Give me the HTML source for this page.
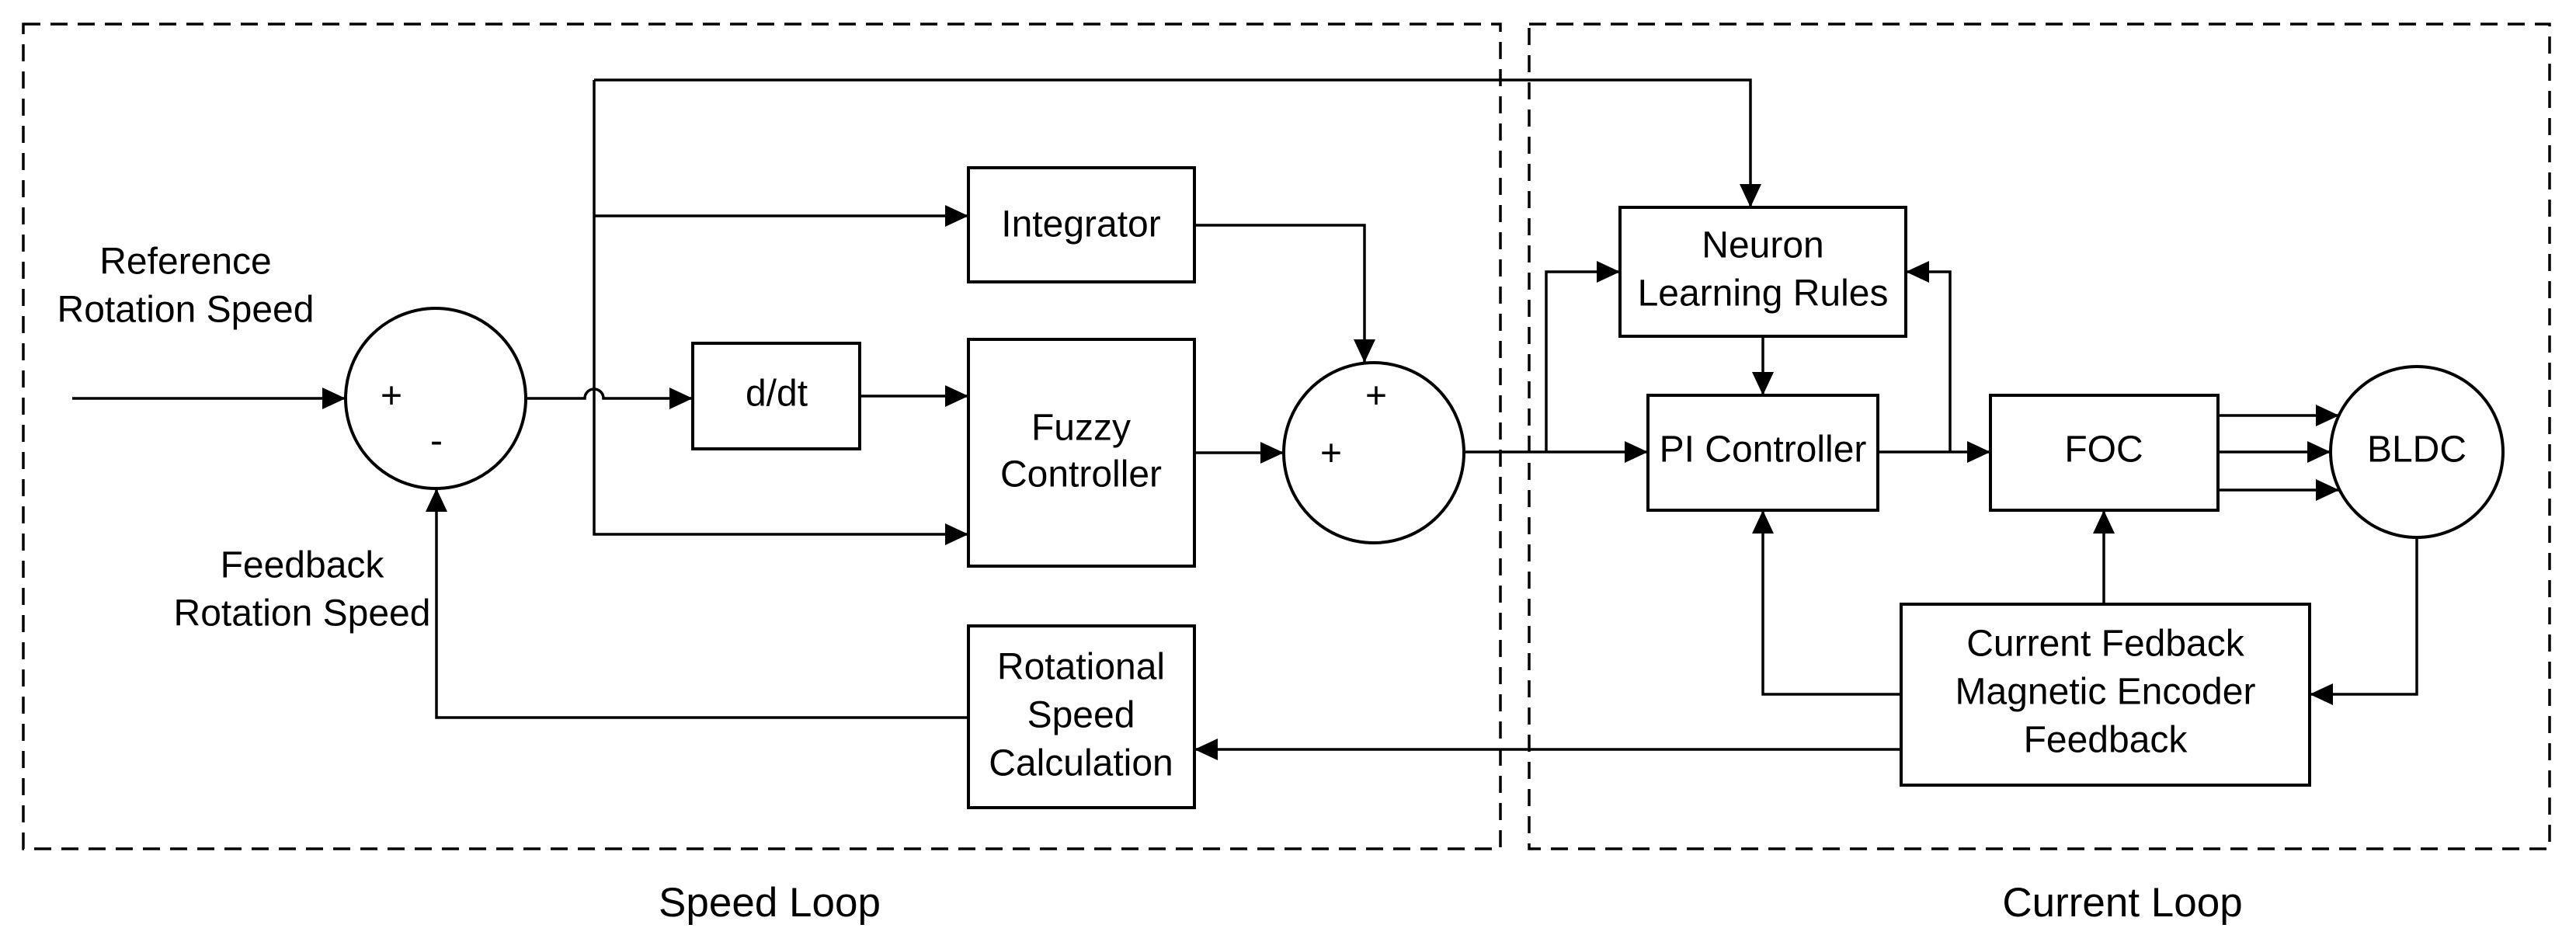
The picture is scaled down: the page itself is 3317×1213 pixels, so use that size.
<!DOCTYPE html>
<html><head><meta charset="utf-8"><style>html,body{margin:0;padding:0;background:#fff}svg{display:block}text{font-family:"Liberation Sans",sans-serif;font-size:48px;fill:#000;text-anchor:middle;dominant-baseline:middle}</style></head>
<body>
<svg width="3317" height="1213" viewBox="0 0 3317 1213" xmlns="http://www.w3.org/2000/svg">
<defs>
<marker id="A" markerWidth="30" markerHeight="28" refX="30" refY="14" orient="auto" markerUnits="userSpaceOnUse"><path d="M0,0 L30,14 L0,28 z" fill="#000"/></marker></defs>
<g fill="none" stroke="#000" stroke-width="3.5" stroke-dasharray="22,13">
<rect x="30" y="31" width="1902" height="1062"/>
<rect x="1969" y="31" width="1314" height="1062"/>
</g>
<g fill="none" stroke="#000" stroke-width="4">
<rect x="1247" y="216" width="291" height="147"/>
<rect x="892" y="442" width="215" height="136"/>
<rect x="1247" y="437" width="291" height="292"/>
<rect x="1247" y="806" width="291" height="234"/>
<circle cx="561" cy="513" r="116"/>
<circle cx="1769" cy="583" r="116"/>
<rect x="2086" y="267" width="368" height="166"/>
<rect x="2122" y="509" width="296" height="148"/>
<rect x="2563" y="509" width="293" height="148"/>
<ellipse cx="3112" cy="582" rx="111" ry="110"/>
<rect x="2448" y="778" width="526" height="233"/>
</g>
<g fill="none" stroke="#000" stroke-width="3.5">
<path d="M93,513 H445" marker-end="url(#A)"/>
<path d="M677,513 H753 A12,12 0 0 1 777,513 H892" marker-end="url(#A)"/>
<path d="M765,103 V688 H1247" marker-end="url(#A)"/>
<path d="M765,278 H1247" marker-end="url(#A)"/>
<path d="M1107,510 H1247" marker-end="url(#A)"/>
<path d="M765,103 H2254 V267" marker-end="url(#A)"/>
<path d="M1538,290 H1757 V467" marker-end="url(#A)"/>
<path d="M1538,583 H1653" marker-end="url(#A)"/>
<path d="M1247,924 H562 V629" marker-end="url(#A)"/>
<path d="M2448,965 H1538" marker-end="url(#A)"/>
<path d="M1885,582 H2122" marker-end="url(#A)"/>
<path d="M1991,582 V350 H2086" marker-end="url(#A)"/>
<path d="M2270,433 V509" marker-end="url(#A)"/>
<path d="M2418,582 H2563" marker-end="url(#A)"/>
<path d="M2511,582 V350 H2454" marker-end="url(#A)"/>
<path d="M2856,535 H3012" marker-end="url(#A)"/>
<path d="M2856,582 H3001" marker-end="url(#A)"/>
<path d="M2856,631 H3012" marker-end="url(#A)"/>
<path d="M2709,778 V657" marker-end="url(#A)"/>
<path d="M2448,894 H2270 V657" marker-end="url(#A)"/>
<path d="M3112,692 V894 H2974" marker-end="url(#A)"/>
</g>
<text x="1392" y="292">Integrator</text>
<text x="1000" y="510">d/dt</text>
<text x="1392" y="554">Fuzzy</text>
<text x="1392" y="614">Controller</text>
<text x="1392" y="862">Rotational</text>
<text x="1392" y="924">Speed</text>
<text x="1392" y="986">Calculation</text>
<text x="239" y="340">Reference</text>
<text x="239" y="402">Rotation Speed</text>
<text x="389" y="731">Feedback</text>
<text x="389" y="793">Rotation Speed</text>
<text x="504" y="513">+</text>
<text x="562" y="571">-</text>
<text x="1772" y="513">+</text>
<text x="1714" y="587">+</text>
<text x="2270" y="319">Neuron</text>
<text x="2270" y="381">Learning Rules</text>
<text x="2270" y="582">PI Controller</text>
<text x="2709" y="582">FOC</text>
<text x="3112" y="582">BLDC</text>
<text x="2711" y="832">Current Fedback</text>
<text x="2711" y="894">Magnetic Encoder</text>
<text x="2711" y="956">Feedback</text>
<text x="991" y="1166" style="font-size:53px">Speed Loop</text>
<text x="2733" y="1166" style="font-size:53px">Current Loop</text>
</svg>
</body></html>
